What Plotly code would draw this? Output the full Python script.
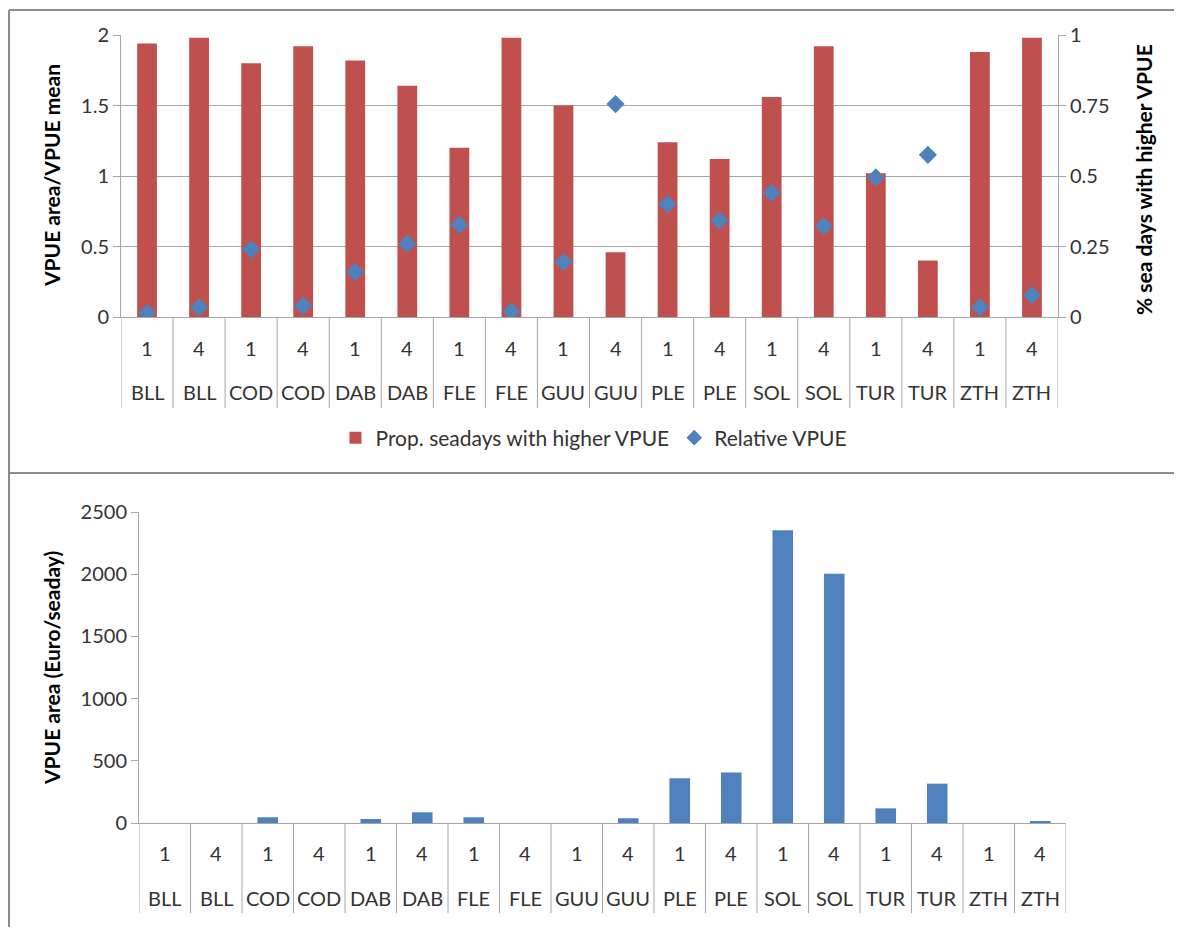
import plotly.graph_objects as go

species = ["BLL", "BLL", "COD", "COD", "DAB", "DAB", "FLE", "FLE", "GUU", "GUU",
           "PLE", "PLE", "SOL", "SOL", "TUR", "TUR", "ZTH", "ZTH"]
quarters = ["1", "4"] * 9
prop_higher = [0.97, 0.99, 0.90, 0.96, 0.91, 0.82, 0.60, 0.99, 0.75, 0.23,
               0.62, 0.56, 0.78, 0.96, 0.51, 0.20, 0.94, 0.99]
relative_vpue = [0.03, 0.07, 0.48, 0.08, 0.32, 0.52, 0.655, 0.04, 0.39, 1.51,
                 0.80, 0.685, 0.88, 0.645, 0.99, 1.15, 0.07, 0.155]
vpue_area = [0, 0, 46, 0, 32, 86, 46, 0, 0, 38,
             359, 405, 2353, 2004, 118, 316, 0, 14]

cats = [f"{s}-{q}" for s, q in zip(species, quarters)]

OFF = 8  # page body margin
W, H = 1182 - 2 * OFF, 935 - 2 * OFF
def py(p):  # screen pixel y -> paper
    return (H - (p - OFF)) / H
def px(p):
    return (p - OFF) / W

RED = "#C0504D"
BLUE = "#4F81BD"
GRID = "#A6A6A6"
TXT = "#333333"
FONT = "Lato"

fig = go.Figure()

fig.add_trace(go.Bar(x=cats, y=prop_higher, name="Prop. seadays with higher VPUE",
                     marker=dict(color=RED, line=dict(width=0)), width=0.38,
                     xaxis="x", yaxis="y"))
fig.add_trace(go.Scatter(x=cats, y=relative_vpue, name="Relative VPUE", mode="markers",
                         marker=dict(symbol="diamond", size=14, color=BLUE),
                         xaxis="x", yaxis="y2"))
fig.add_trace(go.Bar(x=cats, y=vpue_area, name="VPUE area", showlegend=False,
                     marker=dict(color=BLUE, line=dict(width=0)), width=0.4,
                     xaxis="x2", yaxis="y3"))

tickfont = dict(family=FONT, size=20, color=TXT)
titlefont = dict(family=FONT, size=21, color="#000000", weight="bold")

top_dom = [py(317), py(35)]
bot_dom = [py(823), py(512)]

fig.update_layout(
    width=W, height=H,
    margin=dict(l=0, r=0, t=0, b=0, autoexpand=False),
    paper_bgcolor="white", plot_bgcolor="white",
    showlegend=True,
    legend=dict(orientation="h", x=px(594), xanchor="center", y=py(438), yanchor="middle",
                font=dict(family=FONT, size=21, color=TXT), itemwidth=30,
                itemsizing="constant", bgcolor="rgba(0,0,0,0)"),
    xaxis=dict(domain=[px(121), px(1058)], anchor="y", type="category",
               showticklabels=False, ticks="", showgrid=False, automargin=False,
               showline=True, linecolor=GRID, linewidth=1, range=[-0.5, 17.5]),
    yaxis=dict(domain=top_dom, anchor="x", side="right", range=[0, 1], automargin=False,
               tickvals=[0, 0.25, 0.5, 0.75, 1], ticktext=["0", "0.25", "0.5", "0.75", "1"],
               showgrid=True, gridcolor=GRID, gridwidth=1, zeroline=False,
               showline=True, linecolor=GRID, ticks="outside", ticklen=7, tickcolor=GRID,
               tickfont=tickfont),
    yaxis2=dict(domain=top_dom, anchor="x", overlaying="y", side="left", range=[0, 2],
                automargin=False,
                tickvals=[0, 0.5, 1, 1.5, 2], ticktext=["0", "0.5", "1", "1.5", "2"],
                showgrid=False, zeroline=False,
                showline=True, linecolor=GRID, ticks="outside", ticklen=7, tickcolor=GRID,
                tickfont=tickfont),
    xaxis2=dict(domain=[px(139), px(1066)], anchor="y3", type="category", automargin=False,
                showticklabels=False, ticks="", showgrid=False,
                showline=True, linecolor=GRID, linewidth=1, range=[-0.5, 17.5]),
    yaxis3=dict(domain=bot_dom, anchor="x2", range=[0, 2500], automargin=False,
                tickvals=[0, 500, 1000, 1500, 2000, 2500],
                showgrid=False, zeroline=False,
                showline=True, linecolor=GRID, ticks="outside", ticklen=7, tickcolor=GRID,
                tickfont=tickfont),
)

annotations = []
shapes = []
# axis titles
annotations.append(dict(x=px(51), y=py(176), xref="paper", yref="paper", text="<b>VPUE area/VPUE mean</b>",
                        textangle=-90, showarrow=False, font=titlefont, xanchor="center", yanchor="middle"))
annotations.append(dict(x=px(1143), y=py(180), xref="paper", yref="paper", text="<b>% sea days with higher VPUE</b>",
                        textangle=-90, showarrow=False, font=titlefont, xanchor="center", yanchor="middle"))
annotations.append(dict(x=px(51), y=py(668), xref="paper", yref="paper", text="<b>VPUE area (Euro/seaday)</b>",
                        textangle=-90, showarrow=False, font=titlefont, xanchor="center", yanchor="middle"))

# category labels and dividers
for xref, y_num, y_name, y_top, y_bot in [("x", 348, 392, 317, 408), ("x2", 853, 898, 823, 913)]:
    for i, c in enumerate(cats):
        annotations.append(dict(x=c, y=py(y_num), xref=xref, yref="paper", text=quarters[i],
                                showarrow=False, font=dict(family=FONT, size=20, color=TXT),
                                xanchor="center", yanchor="middle"))
        annotations.append(dict(x=c, y=py(y_name), xref=xref, yref="paper", text=species[i],
                                showarrow=False, font=dict(family=FONT, size=20, color=TXT),
                                xanchor="center", yanchor="middle"))
    for i in range(len(cats) + 1):
        shapes.append(dict(type="line", xref=xref, yref="paper", x0=i - 0.5, x1=i - 0.5,
                           y0=py(y_top), y1=py(y_bot), line=dict(color=GRID, width=1)))

# panel frames (left edge, top edge, separator)
FRAME = dict(color="#8C8C8C", width=2)
shapes.append(dict(type="line", xref="paper", yref="paper", x0=1 / W, x1=1.0,
                   y0=py(10), y1=py(10), line=FRAME, layer="below"))
shapes.append(dict(type="line", xref="paper", yref="paper", x0=1 / W, x1=1.0,
                   y0=py(473), y1=py(473), line=FRAME, layer="below"))
shapes.append(dict(type="line", xref="paper", yref="paper", x0=1 / W, x1=1 / W,
                   y0=py(10), y1=0.0, line=FRAME, layer="below"))

fig.update_layout(annotations=annotations, shapes=shapes)

fig.write_html("out.html")
